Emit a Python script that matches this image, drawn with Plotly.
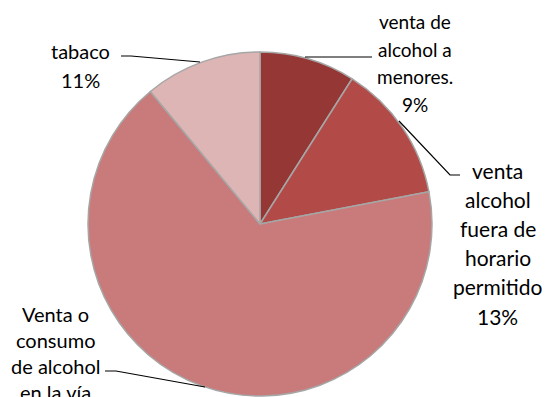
import plotly.graph_objects as go

# Data
labels = [
    "venta de alcohol a menores.",
    "venta alcohol fuera de horario permitido",
    "Venta o consumo de alcohol en la vía",
    "tabaco",
]
values = [9, 13, 67, 11]
colors = ["#953735", "#B24B48", "#C87B7A", "#DDB5B5"]

# label lines as drawn beside the pie (category name split over lines)
label_lines = [
    ["venta de", "alcohol a", "menores."],
    ["venta", "alcohol", "fuera de", "horario", "permitido"],
    ["Venta o", "consumo", "de alcohol", "en la vía"],
    ["tabaco"],
]
# whether the percentage line fits inside the canvas
show_pct = [True, True, False, True]

W, H = 550, 397
CX, CY, R = 260, 224, 172  # pie centre and radius in pixels

total = sum(values)
pcts = [round(100 * v / total) for v in values]


def px(x):
    return x / W


def py(y):
    return 1 - y / H


fig = go.Figure(
    go.Pie(
        labels=labels,
        values=values,
        sort=False,
        direction="clockwise",
        rotation=0,
        textinfo="none",
        hoverinfo="label+percent",
        marker=dict(colors=colors, line=dict(color="#A6A6A6", width=1.5)),
        domain=dict(x=[px(CX - R), px(CX + R)], y=[py(CY + R), py(CY - R)]),
        showlegend=False,
    )
)

# label blocks: centre x, first line y, line spacing, font size
blocks = [
    (415, 22, 27.5, 19),
    (498, 170, 29.2, 21),
    (55, 314, 26, 20),
    (80, 51, 29, 20),
]

annotations = []
for lines, pct, show, (bx, by, step, size) in zip(label_lines, pcts, show_pct, blocks):
    rows = lines + ([f"{pct}%"] if show else [])
    for i, t in enumerate(rows):
        annotations.append(
            dict(
                x=px(bx), y=py(by + i * step), xref="paper", yref="paper",
                text=t, showarrow=False, xanchor="center", yanchor="middle",
                font=dict(family="Lato", size=size, color="#000000"),
            )
        )

# leader lines
leaders = [
    [(305, 57), (372, 57)],
    [(399, 121), (450, 175), (460, 175)],
    [(105, 371), (116, 371), (205, 387)],
    [(121, 56), (131, 56), (200, 62)],
]
shapes = []
for pts in leaders:
    path = "M " + " L ".join(f"{px(x)},{py(y)}" for x, y in pts)
    shapes.append(dict(type="path", xref="paper", yref="paper", path=path,
                       line=dict(color="#000000", width=1.2)))

fig.update_layout(
    width=W, height=H,
    margin=dict(l=0, r=0, t=0, b=0),
    paper_bgcolor="#FFFFFF",
    plot_bgcolor="#FFFFFF",
    annotations=annotations,
    shapes=shapes,
)

fig.write_html("out.html")
